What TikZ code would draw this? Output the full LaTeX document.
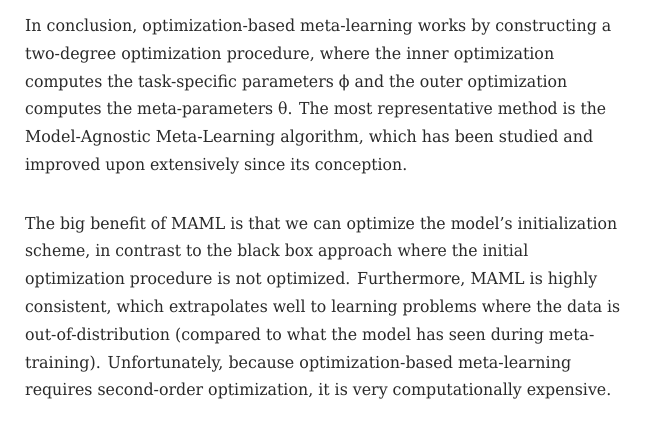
\documentclass[tikz,border=0pt]{standalone}
\usepackage{fontspec}
\setmainfont{DejaVu Serif Condensed}
\usepackage{graphicx}
\usepackage{tikz}
\definecolor{bodytext}{HTML}{292929}
\tikzset{txtline/.style={anchor=base west, inner sep=0pt, text=bodytext,
  font=\fontsize{16.5}{28}\selectfont}}
\newcommand{\fitline}[2]{\resizebox{#1pt}{\height}{#2}}

\begin{document}
\begin{tikzpicture}[x=1pt,y=1pt]
\useasboundingbox[fill=white] (0,0) rectangle (655,-425);
% first paragraph
\node[txtline] (conclA) at (25,-31.5) {\fitline{586}{In conclusion, optimization-based meta-learning works by constructing a}};
\node[txtline] (conclB) at (25,-59.3) {\fitline{529}{two-degree optimization procedure, where the inner optimization}};
\node[txtline] (conclC) at (25,-87.1) {\fitline{542}{computes the task-specific parameters ϕ and the outer optimization}};
\node[txtline] (conclD) at (25,-114.9) {\fitline{581}{computes the meta-parameters θ. The most representative method is the}};
\node[txtline] (conclE) at (25,-142.7) {\fitline{568}{Model-Agnostic Meta-Learning algorithm, which has been studied and}};
\node[txtline] (conclF) at (25,-170.5) {\fitline{382}{improved upon extensively since its conception.}};
% second paragraph
\node[txtline] (benefA) at (25,-229) {\fitline{592}{The big benefit of MAML is that we can optimize the model’s initialization}};
\node[txtline] (benefB) at (25,-256.8) {\fitline{503}{scheme, in contrast to the black box approach where the initial}};
\node[txtline] (benefC) at (25,-284.6) {\fitline{572}{optimization procedure is not optimized. Furthermore, MAML is highly}};
\node[txtline] (benefD) at (25,-312.4) {\fitline{595}{consistent, which extrapolates well to learning problems where the data is}};
\node[txtline] (benefE) at (25,-340.2) {\fitline{569}{out-of-distribution (compared to what the model has seen during meta-}};
\node[txtline] (benefF) at (25,-368) {\fitline{546}{training). Unfortunately, because optimization-based meta-learning}};
\node[txtline] (benefG) at (25,-395.8) {\fitline{586}{requires second-order optimization, it is very computationally expensive.}};
\end{tikzpicture}
\end{document}
